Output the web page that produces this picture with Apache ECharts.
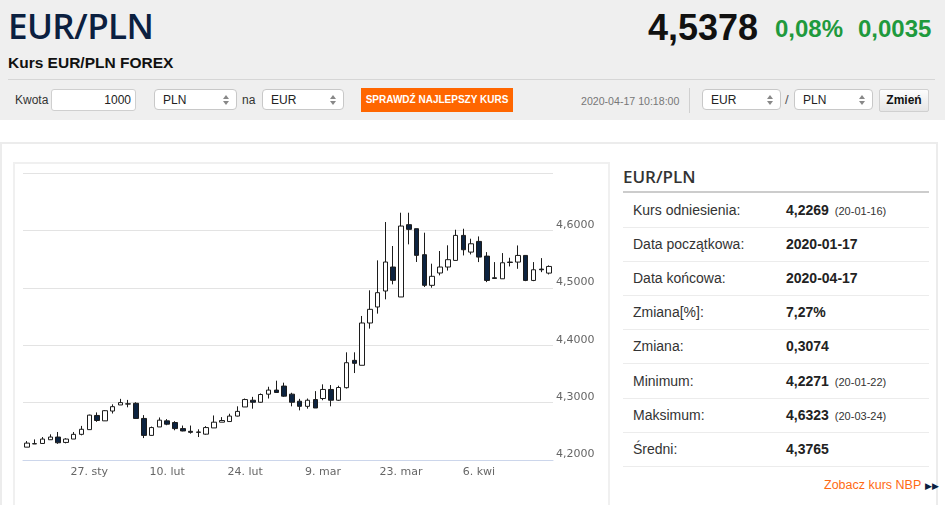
<!DOCTYPE html>
<html>
<head>
<meta charset="utf-8">
<script src="https://cdn.jsdelivr.net/npm/echarts@6/dist/echarts.min.js"></script>
<style>
html,body{margin:0;padding:0;}
body{width:945px;height:505px;overflow:hidden;position:relative;background:#fff;font-family:Arial,"Liberation Sans",sans-serif;color:#222;}
.abs{position:absolute;white-space:nowrap;}
#head{position:absolute;left:0;top:0;width:945px;height:120px;background:#efefef;}
.sel{position:absolute;height:20px;border:1px solid #c8c8c8;border-radius:4px;background:#fff;font-size:12px;line-height:20px;padding-left:8px;box-sizing:border-box;height:21px;}
.sel:after{content:"";position:absolute;right:7px;top:5px;border-left:3px solid transparent;border-right:3px solid transparent;border-bottom:4px solid #888;}
.sel:before{content:"";position:absolute;right:7px;top:11px;border-left:3px solid transparent;border-right:3px solid transparent;border-top:4px solid #888;}
.row{position:absolute;left:623px;width:306px;height:34px;border-bottom:1px solid #ececec;font-size:14px;}
.row .l{position:absolute;left:10px;top:9px;color:#333;}
.row .v{position:absolute;left:163px;top:9px;font-weight:bold;color:#222;}
.row .s{font-size:11px;font-weight:normal;margin-left:6px;color:#333;}
</style>
</head>
<body>
<div id="head">
  <div class="abs" style="left:8px;top:2px;font-family:'Open Sans';font-weight:600;font-size:35px;color:#0b2040;letter-spacing:-0.6px;">EUR/PLN</div>
  <div class="abs" style="left:8px;top:54px;font-weight:bold;font-size:15.5px;color:#111;">Kurs EUR/PLN FOREX</div>
  <div class="abs" style="left:648px;top:7px;font-weight:bold;font-size:36px;color:#111;">4,5378</div>
  <div class="abs" style="left:775px;top:15px;font-weight:bold;font-size:24px;color:#1f9a3d;">0,08%</div>
  <div class="abs" style="left:858px;top:15px;font-weight:bold;font-size:24px;color:#1f9a3d;">0,0035</div>
  <div class="abs" style="left:8px;top:79px;width:927px;height:1px;background:#d6d6d6;"></div>
  <div class="abs" style="left:15px;top:93px;font-size:12px;color:#333;">Kwota</div>
  <div class="abs" style="left:51px;top:89px;width:85px;height:22px;background:#fff;border:1px solid #cfcfcf;border-radius:3px;box-sizing:border-box;font-size:12px;line-height:20px;text-align:right;padding-right:4px;color:#222;">1000</div>
  <div class="sel" style="left:154px;top:89px;width:83px;">PLN</div>
  <div class="abs" style="left:242px;top:93px;font-size:12px;color:#333;">na</div>
  <div class="sel" style="left:262px;top:89px;width:82px;">EUR</div>
  <div class="abs" style="left:361px;top:88px;width:152px;height:24px;background:#ff6600;color:#fff;font-size:10px;font-weight:bold;line-height:24px;text-align:center;">SPRAWDŹ NAJLEPSZY KURS</div>
  <div class="abs" style="left:581px;top:95px;font-size:10.6px;color:#777;">2020-04-17 10:18:00</div>
  <div class="abs" style="left:689px;top:88px;width:1px;height:25px;background:#d0d0d0;"></div>
  <div class="sel" style="left:702px;top:89px;width:79px;">EUR</div>
  <div class="abs" style="left:785px;top:92px;font-size:13px;color:#555;">/</div>
  <div class="sel" style="left:794px;top:89px;width:79px;">PLN</div>
  <div class="abs" style="left:879px;top:89px;width:50px;height:23px;border:1px solid #d0d0d0;border-radius:2px;box-sizing:border-box;background:linear-gradient(#fdfdfd,#e6e6e6);font-size:12px;font-weight:bold;line-height:21px;text-align:center;color:#111;">Zmień</div>
</div>
<div class="abs" style="left:0;top:142px;width:934px;height:370px;border:2px solid #ececec;border-bottom:none;"></div>
<div class="abs" style="left:13px;top:162px;width:593px;height:360px;border:2px solid #f0f0f0;border-bottom:none;"></div>
<div id="chart" style="position:absolute;left:15px;top:164px;width:593px;height:341px;"></div>

<div class="abs" style="left:623px;top:165px;font-family:'Open Sans';font-weight:600;font-size:17px;color:#333;">EUR/PLN</div>
<div class="abs" style="left:623px;top:191px;width:306px;height:2px;background:#cccccc;"></div>
<div class="row" style="top:193px;"><span class="l">Kurs odniesienia:</span><span class="v">4,2269<span class="s">(20-01-16)</span></span></div>
<div class="row" style="top:227px;"><span class="l">Data początkowa:</span><span class="v">2020-01-17</span></div>
<div class="row" style="top:261px;"><span class="l">Data końcowa:</span><span class="v">2020-04-17</span></div>
<div class="row" style="top:295px;"><span class="l">Zmiana[%]:</span><span class="v">7,27%</span></div>
<div class="row" style="top:329px;"><span class="l">Zmiana:</span><span class="v">0,3074</span></div>
<div class="row" style="top:364px;"><span class="l">Minimum:</span><span class="v">4,2271<span class="s">(20-01-22)</span></span></div>
<div class="row" style="top:398px;"><span class="l">Maksimum:</span><span class="v">4,6323<span class="s">(20-03-24)</span></span></div>
<div class="row" style="top:432px;"><span class="l">Średni:</span><span class="v">4,3765</span></div>
<div class="abs" style="left:824px;top:478px;font-size:12.5px;color:#ff6a13;">Zobacz kurs NBP <span style="color:#0b2040;font-size:9px;">▶▶</span></div>

<script>
const dates = [
 '2020-01-15','2020-01-16','2020-01-17','2020-01-20','2020-01-21','2020-01-22','2020-01-23','2020-01-24',
 '2020-01-27','2020-01-28','2020-01-29','2020-01-30','2020-01-31','2020-02-03','2020-02-04','2020-02-05',
 '2020-02-06','2020-02-07','2020-02-10','2020-02-11','2020-02-12','2020-02-13','2020-02-14','2020-02-17',
 '2020-02-18','2020-02-19','2020-02-20','2020-02-21','2020-02-24','2020-02-25','2020-02-26','2020-02-27',
 '2020-02-28','2020-03-02','2020-03-03','2020-03-04','2020-03-05','2020-03-06','2020-03-09','2020-03-10',
 '2020-03-11','2020-03-12','2020-03-13','2020-03-16','2020-03-17','2020-03-18','2020-03-19','2020-03-20',
 '2020-03-23','2020-03-24','2020-03-25','2020-03-26','2020-03-27','2020-03-30','2020-03-31','2020-04-01',
 '2020-04-02','2020-04-03','2020-04-06','2020-04-07','2020-04-08','2020-04-09','2020-04-10','2020-04-13',
 '2020-04-14','2020-04-15','2020-04-16','2020-04-17'
];
const opens = [
 4.2224,4.2285,4.2288,4.2353,4.2400,4.2306,4.2365,4.2447,4.2529,4.2776,4.2682,4.2853,4.2959,4.2978,4.2988,4.2724,
 4.2429,4.2576,4.2682,4.2653,4.2547,4.2500,4.2488,4.2450,4.2559,4.2659,4.2670,4.2765,4.2924,4.3041,4.3006,4.3147,
 4.3218,4.3288,4.3147,4.3024,4.2935,4.3053,4.3071,4.3229,4.3041,4.3260,4.3736,4.3650,4.4387,4.4666,4.4944,4.5362,
 4.4840,4.6100,4.6030,4.5577,4.5043,4.5258,4.5362,4.5477,4.5913,4.5622,4.5808,4.5552,4.5175,4.5157,4.5448,4.5448,
 4.5564,4.5128,4.5326,4.5256
];
const closes = [
 4.2294,4.2280,4.2365,4.2400,4.2300,4.2365,4.2447,4.2535,4.2782,4.2688,4.2859,4.2929,4.3000,4.2975,4.2724,4.2429,
 4.2565,4.2694,4.2624,4.2547,4.2506,4.2482,4.2482,4.2565,4.2659,4.2688,4.2765,4.2847,4.3053,4.3006,4.3141,4.3218,
 4.3176,4.3112,4.3006,4.2935,4.3041,4.2906,4.3229,4.3041,4.3263,4.3695,4.3684,4.4387,4.4625,4.4915,4.5449,4.5130,
 4.6076,4.6018,4.5565,4.5043,4.5200,4.5362,4.5490,4.5913,4.5663,4.5767,4.5535,4.5128,4.5163,4.5436,4.5442,4.5564,
 4.5128,4.5314,4.5314,4.5372
];
const lows = [
 4.2224,4.2278,4.2288,4.2350,4.2282,4.2290,4.2365,4.2430,4.2529,4.2665,4.2680,4.2810,4.2959,4.2918,4.2718,4.2382,
 4.2424,4.2576,4.2606,4.2518,4.2500,4.2459,4.2400,4.2440,4.2559,4.2659,4.2670,4.2759,4.2924,4.2894,4.3000,4.3071,
 4.3176,4.3100,4.2935,4.2865,4.2894,4.2906,4.3041,4.2935,4.3029,4.3245,4.3515,4.3650,4.4289,4.4550,4.4799,4.5060,
 4.4840,4.5757,4.5450,4.5014,4.5002,4.5217,4.5300,4.5477,4.5564,4.5581,4.5448,4.5099,4.5157,4.5157,4.5372,4.5331,
 4.5116,4.5116,4.5273,4.5233
];
const highs = [
 4.2330,4.2359,4.2400,4.2447,4.2488,4.2380,4.2488,4.2594,4.2790,4.2829,4.2870,4.2970,4.3065,4.3047,4.3006,4.2782,
 4.2582,4.2741,4.2712,4.2676,4.2600,4.2600,4.2535,4.2590,4.2776,4.2747,4.2806,4.2935,4.3071,4.3100,4.3159,4.3276,
 4.3382,4.3347,4.3171,4.3065,4.3071,4.3200,4.3318,4.3306,4.3294,4.3876,4.3876,4.4509,4.4956,4.5478,4.6146,4.5728,
 4.6308,4.6308,4.6030,4.5960,4.5420,4.5641,4.5740,4.6012,4.6029,4.5855,4.5895,4.5622,4.5448,4.5605,4.5523,4.5738,
 4.5564,4.5448,4.5517,4.5390
];
const monthNames = ['sty','lut','mar','kwi','maj','cze','lip','sie','wrz','paź','lis','gru'];
const firstLabelIndex = 8, labelStep = 10;

const ohlc = dates.map((d, i) => [opens[i], closes[i], lows[i], highs[i]]);
const showTick = (idx) => idx >= firstLabelIndex && (idx - firstLabelIndex) % labelStep === 0;

const chart = echarts.init(document.getElementById('chart'));
chart.setOption({
  animation: false,
  grid: { left: 8, right: 55, top: 9, bottom: 45 },
  xAxis: {
    type: 'category',
    data: dates,
    boundaryGap: true,
    axisLine: { lineStyle: { color: '#ccd6eb', width: 1 } },
    axisTick: { interval: (idx) => showTick(idx), alignWithLabel: true, length: 8, lineStyle: { color: '#ccd6eb' } },
    axisLabel: {
      interval: (idx) => showTick(idx),
      color: '#666', fontFamily: 'DejaVu Sans', fontSize: 11, margin: 7,
      formatter: (v) => parseInt(v.slice(8), 10) + '. ' + monthNames[parseInt(v.slice(5, 7), 10) - 1]
    },
    splitLine: { show: false }
  },
  yAxis: {
    type: 'value',
    position: 'right',
    min: 4.2, max: 4.7, interval: 0.1,
    axisLine: { show: false },
    axisTick: { show: false },
    axisLabel: {
      showMaxLabel: false,
      color: '#666', fontFamily: 'DejaVu Sans', fontSize: 11, margin: 3,
      verticalAlign: 'bottom', padding: [0, 0, 0, 0],
      formatter: (v) => v.toFixed(4).replace('.', ',')
    },
    splitLine: { lineStyle: { color: '#e3e3e3', width: 1 } }
  },
  series: [{
    type: 'candlestick',
    data: ohlc,
    barWidth: 5,
    itemStyle: {
      color: '#ffffff', color0: '#0c2340',
      borderColor: '#1c1c1c', borderColor0: '#1c1c1c', borderWidth: 1
    }
  }]
});
</script>
</body>
</html>
